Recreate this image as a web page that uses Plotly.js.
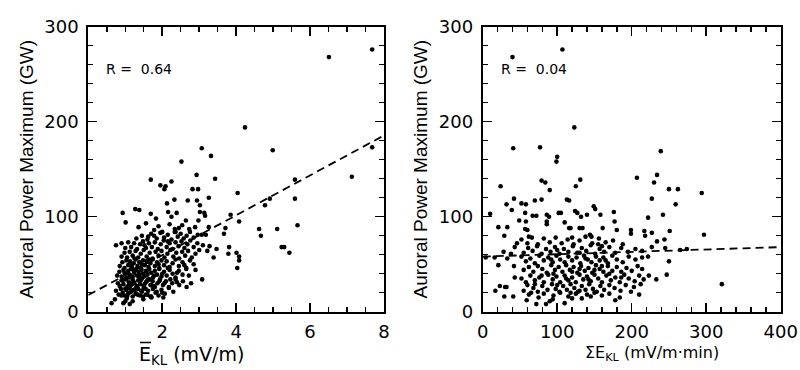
<!DOCTYPE html>
<html><head><meta charset="utf-8">
<script src="https://cdn.plot.ly/plotly-3.0.1.min.js"></script>
<style>html,body{margin:0;padding:0;background:#fff}#chart{width:800px;height:370px}</style>
</head><body><div id="chart"></div>
<script>
// ---- Left panel: mean E_KL (mV/m) vs auroral power maximum (GW) ----
const leftX = [
0.63,0.72,0.95,1.04,1.2,1.49,1.71,1.0,1.12,2.03,
0.75,0.82,0.88,0.93,0.98,1.03,1.08,1.12,1.16,1.2,1.25,1.3,1.35,1.4,1.45,1.5,1.56,1.62,1.68,1.75,1.82,1.9,1.98,2.07,2.18,2.3,0.9,1.0,1.1,1.22,1.33,1.43,1.55,1.7,1.85,2.0,1.05,1.28,1.48,1.6,
0.8,0.85,0.9,0.95,1.0,1.05,1.1,1.15,1.2,1.25,1.3,1.35,1.4,1.45,1.5,1.56,1.62,1.68,1.74,1.8,1.87,1.94,2.02,2.1,2.18,2.27,2.36,2.46,2.56,2.66,2.78,1.02,1.12,1.22,1.32,1.42,1.52,1.65,1.78,1.92,2.06,2.22,0.93,1.08,1.18,1.38,1.58,1.7,2.4,3.08,
0.78,0.84,0.9,0.95,1.0,1.04,1.08,1.12,1.16,1.2,1.24,1.28,1.32,1.36,1.4,1.44,1.48,1.52,1.56,1.6,1.65,1.7,1.75,1.8,1.86,1.92,1.98,2.05,2.12,2.2,2.28,2.36,2.45,2.55,2.65,2.72,1.1,1.22,1.38,1.58,1.78,2.0,2.4,2.9,0.98,
0.85,0.92,0.98,1.03,1.08,1.13,1.18,1.23,1.28,1.33,1.38,1.43,1.48,1.53,1.58,1.63,1.68,1.74,1.8,1.86,1.92,1.98,2.05,2.12,2.2,2.28,2.36,2.45,2.55,2.65,2.75,2.85,1.15,1.3,1.45,1.65,1.9,2.15,2.6,4.03,
0.9,0.98,1.05,1.12,1.2,1.28,1.35,1.42,1.5,1.58,1.66,1.74,1.82,1.9,1.98,2.06,2.14,2.22,2.3,2.38,2.46,2.54,2.62,2.7,2.8,2.9,3.0,3.22,3.39,4.01,4.08,4.08,3.79,5.44,1.25,
0.75,0.9,1.0,1.08,1.16,1.24,1.32,1.4,1.48,1.56,1.64,1.72,1.8,1.88,1.96,2.04,2.12,2.2,2.28,2.36,2.44,2.52,2.6,2.68,2.76,2.85,2.95,3.1,3.28,3.47,3.81,5.23,5.3,1.52,2.15,
1.3,1.45,1.6,1.7,1.78,1.85,1.95,2.05,2.15,2.25,2.34,2.42,2.5,2.58,2.66,2.75,2.85,2.96,3.07,3.18,3.67,4.67,2.36,1.62,2.0,
1.01,1.36,1.56,1.78,1.83,2.34,2.54,2.64,2.73,2.89,2.98,3.26,3.71,4.08,4.62,5.11,5.66,1.9,2.2,2.45,
0.93,1.27,1.38,1.69,2.16,2.25,2.39,3.02,3.14,3.16,3.85,2.13,3.02,4.78,
2.33,2.69,2.94,3.26,4.04,4.91,5.59,2.06,2.82,2.97,1.95,2.09,2.25,1.69,3.43,5.59,2.93,7.13,2.52,3.32,3.07,4.99,7.68,4.24,6.51,7.68
];
const leftY = [
9,13,9,14,11,13,15,11,8,15,
22,18,24,20,17,23,19,25,21,16,23,19,24,17,21,25,18,22,16,24,20,17,23,19,25,21,17,24,20,23,18,22,24,16,21,20,16,19,16,18,
30,27,33,29,35,26,31,28,34,30,26,33,29,35,27,31,34,28,32,26,30,34,28,32,26,30,34,28,32,26,30,34,28,32,27,33,29,34,27,32,30,34,33,27,29,35,32,28,31,34,
38,42,37,44,40,36,43,39,45,37,41,44,38,42,36,44,40,37,43,39,45,41,36,43,39,45,37,42,38,44,40,36,43,39,45,38,36,44,39,42,38,40,41,44,41,
48,52,46,54,49,53,47,51,55,48,52,46,54,49,53,47,51,55,48,52,46,54,49,53,47,51,55,48,52,46,54,50,50,45,50,55,50,46,49,46,
58,62,57,63,59,64,57,61,65,58,62,56,63,59,64,57,61,65,58,62,56,63,59,64,57,61,65,64,57,62,58,54,61,62,56,
70,72,67,73,68,72,66,71,74,67,72,68,73,66,71,75,68,72,66,73,69,74,67,71,75,68,72,70,69,66,68,68,68,70,74,
77,80,76,82,80,77,83,78,81,76,84,79,82,77,80,84,78,81,81,81,82,80,84,79,84,
94,89,93,86,98,87,91,96,87,89,96,89,88,95,87,87,91,90,92,88,
104,108,107,103,105,100,104,105,104,101,102,114,112,112,
118,117,117,120,125,119,119,129,129,129,133,132,137,139,140,139,144,142,158,164,172,170,173,194,268,276
];
// ---- Right panel: sum of E_KL (mV/m·min) vs auroral power maximum (GW) ----
const rightX = [
107,40,123,41,77,239,100,99,234,207,230,131,79,84,24,125,90,250,262,294,227,42,79,70,113,116,32,52,58,259,39,149,151,10,102,105,124,127,140,176,158,242,222,57,72,86,89,132,
21,33,29,49,58,57,60,67,86,86,110,116,118,130,134,144,146,161,177,180,199,199,217,218,227,251,297,244,234,227,245,265,274,4,16,321,250,247,233,223,199,184,120,110,72,85,59,94,17,29,41,23,30,32,21,42,43,28,33,38,43,46,
62,75,82,95,104,115,125,133,140,150,160,170,178,65,90,118,145,210,
55,60,68,74,80,87,93,98,103,108,113,118,123,128,133,138,143,148,153,158,163,170,177,185,192,203,212,70,100,130,
52,58,64,70,76,82,88,94,99,104,110,115,120,125,130,135,140,145,150,155,160,166,172,178,184,190,196,204,210,216,79,112,142,170,186,
55,62,68,74,80,86,92,97,102,107,112,117,122,127,132,137,142,147,152,157,162,168,174,180,186,193,200,208,214,95,130,160,120,150,
52,58,64,70,76,82,88,94,99,104,110,115,120,126,131,136,141,146,152,157,162,168,174,180,188,196,205,214,222,92,138,165,
55,61,67,73,79,85,91,97,103,109,115,121,127,133,139,145,151,157,163,170,178,186,195,205,214,100,130,160,
52,60,66,74,82,90,98,106,114,122,130,138,147,156,165,175,188,62,120,155
];
const rightY = [
276,268,194,172,173,169,163,158,144,141,136,139,138,136,132,132,128,129,129,125,119,119,118,117,118,117,113,114,113,113,107,111,108,103,104,104,106,104,102,105,102,102,99,104,101,102,100,100,
89,89,80,96,95,87,86,101,95,92,94,88,88,88,88,81,79,88,95,86,86,82,85,80,83,85,81,76,74,68,67,65,66,57,57,29,53,39,34,38,21,15,14,9,8,8,12,13,22,16,16,27,26,26,49,48,36,63,56,61,68,72,
18,15,19,17,20,16,19,14,18,20,17,19,12,20,11,20,16,18,
22,28,25,21,27,23,29,24,21,27,23,29,25,21,27,23,29,24,21,27,23,28,25,22,28,26,29,29,28,22,
35,31,38,33,36,31,39,34,37,31,38,33,36,31,39,34,37,32,39,35,31,38,33,36,31,39,35,32,38,34,38,35,34,40,36,
44,47,42,48,45,41,49,44,47,42,49,44,47,41,48,43,46,41,49,45,42,48,43,47,42,46,43,48,45,40,45,48,42,44,
58,53,56,51,59,54,57,52,59,55,52,58,54,57,51,59,55,52,58,54,57,51,59,55,52,58,55,57,58,55,56,54,
62,67,64,69,61,66,63,68,61,66,63,69,62,67,64,70,61,66,63,68,62,67,63,66,64,65,62,69,
76,72,78,71,77,73,78,72,76,71,75,79,72,77,73,75,71,79,78,71
];
// least-squares fit lines (intercept, slope)
const leftFit = {x: [0, 8], b: 17.5, m: 21.0};
const rightFit = {x: [0, 400], b: 58, m: 0.025};
const annotationsText = ["R =  0.64", "R =  0.04"];
const yTitle = "Auroral Power Maximum (GW)";
const xTitleLeft = "E<sub>KL</sub> (mV/m)";
const xTitleRight = "\u03A3E<sub>KL</sub> (mV/m\u00B7min)";

const ARIAL = "Arial, 'Liberation Sans', Helvetica, sans-serif";
const DJ = "'DejaVu Sans', Verdana, sans-serif";
const mk = {color: "#000", size: 4.6};
const dashLine = {color: "#000", width: 1.8, dash: "8px,5px"};
const traces = [
  {x: leftX, y: leftY, type: "scatter", mode: "markers", marker: mk, xaxis: "x", yaxis: "y", hoverinfo: "skip"},
  {x: leftFit.x, y: leftFit.x.map(v => leftFit.b + leftFit.m * v), type: "scatter", mode: "lines",
   line: dashLine, xaxis: "x", yaxis: "y"},
  {x: rightX, y: rightY, type: "scatter", mode: "markers", marker: mk, xaxis: "x2", yaxis: "y2", hoverinfo: "skip"},
  {x: rightFit.x, y: rightFit.x.map(v => rightFit.b + rightFit.m * v), type: "scatter", mode: "lines",
   line: dashLine, xaxis: "x2", yaxis: "y2"}
];
const minorTk = d => ({dtick: d, ticklen: 5, tickwidth: 1.5, tickcolor: "#000", ticks: "inside"});
function ax(extra) {
  return Object.assign({
    showgrid: false, zeroline: false, showline: true, linecolor: "#000", linewidth: 2,
    mirror: "allticks", ticks: "inside", ticklen: 9, tickwidth: 1.5, tickcolor: "#000",
    tickfont: {family: DJ, size: 18, color: "#000"}, fixedrange: true
  }, extra);
}
const yDom = [1 - 311.7 / 370, 1 - 26.7 / 370];
const py = p => 1 - p / 370, px = p => p / 800;
const layout = {
  width: 800, height: 370, showlegend: false,
  margin: {l: 0, r: 0, t: 0, b: 0},
  paper_bgcolor: "#fff", plot_bgcolor: "#fff",
  font: {family: ARIAL, color: "#000"},
  xaxis: ax({domain: [88.3 / 800, 384 / 800], range: [0, 8], tick0: 0, dtick: 2,
    minor: minorTk(0.5), anchor: "y", ticklabelstandoff: 3}),
  yaxis: ax({domain: yDom, range: [0, 300], tick0: 0, dtick: 100,
    minor: minorTk(20), anchor: "x", ticklabelstandoff: 4,
    title: {text: yTitle, font: {family: ARIAL, size: 19, color: "#000"}, standoff: 6}}),
  xaxis2: ax({domain: [482.7 / 800, 780.7 / 800], range: [0, 400], tick0: 0, dtick: 100,
    minor: minorTk(20), anchor: "y2", ticklabelstandoff: 3}),
  yaxis2: ax({domain: yDom, range: [0, 300], tick0: 0, dtick: 100,
    minor: minorTk(20), anchor: "x2", ticklabelstandoff: 4,
    title: {text: yTitle, font: {family: ARIAL, size: 19, color: "#000"}, standoff: 6}}),
  annotations: [
    {xref: "paper", yref: "paper", x: px(104), y: py(69), xanchor: "left", yanchor: "middle",
     text: annotationsText[0], showarrow: false, font: {family: DJ, size: 14, color: "#000"}},
    {xref: "paper", yref: "paper", x: px(499), y: py(69), xanchor: "left", yanchor: "middle",
     text: annotationsText[1], showarrow: false, font: {family: DJ, size: 14, color: "#000"}},
    {xref: "paper", yref: "paper", x: px(138), y: py(342), xanchor: "left", yanchor: "top", borderpad: 0,
     text: xTitleLeft, showarrow: false, font: {family: DJ, size: 19, color: "#000"}},
    {xref: "paper", yref: "paper", x: px(652), y: py(342), xanchor: "center", yanchor: "top", borderpad: 0,
     text: xTitleRight, showarrow: false, font: {family: DJ, size: 16, color: "#000"}}
  ],
  // overline (bar) over the E of the left x-axis title
  shapes: [
    {type: "line", xref: "paper", yref: "paper", x0: px(140), x1: px(151), y0: py(342.5), y1: py(342.5),
     line: {color: "#000", width: 1.5}}
  ]
};
Plotly.newPlot("chart", traces, layout, {staticPlot: true, displayModeBar: false});
</script>
</body></html>
